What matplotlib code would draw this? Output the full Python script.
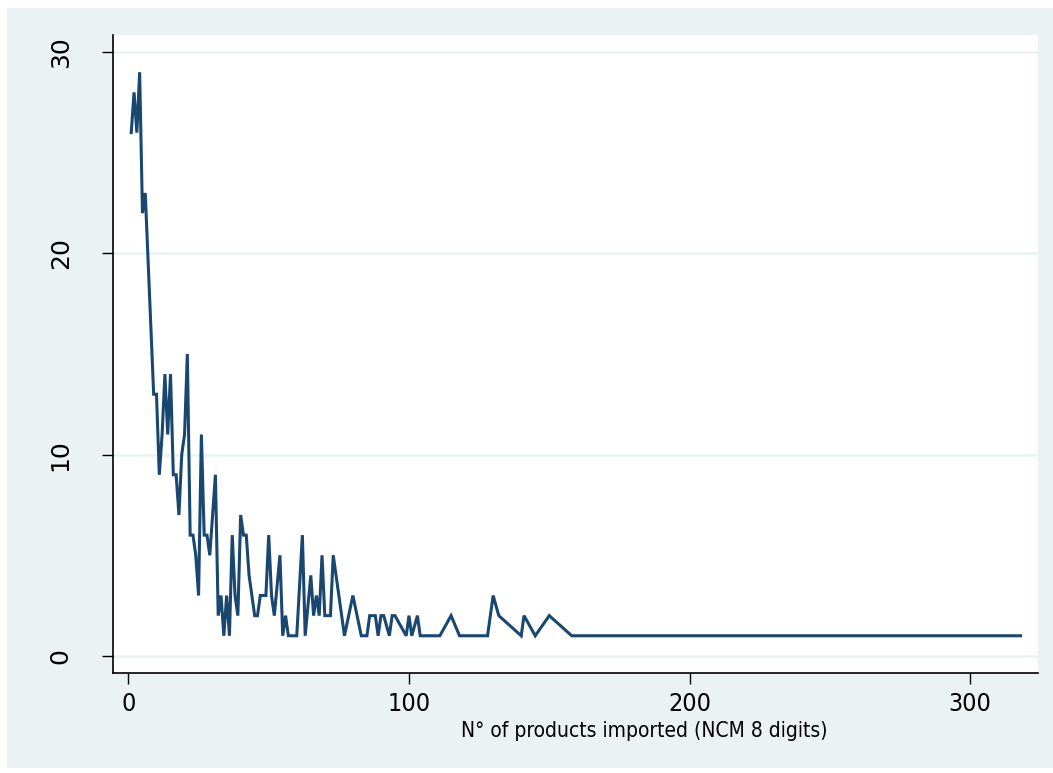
import matplotlib
matplotlib.use("Agg")
import matplotlib.pyplot as plt
from matplotlib.patches import Rectangle

# number of firms by number of distinct products imported (NCM 8 digits)
n_products = [1, 2, 3, 4, 5, 6, 9, 10, 11, 12, 13, 14, 15, 16, 17, 18, 19, 20,
              21, 22, 23, 24, 25, 26, 27, 28, 29, 30, 31, 32, 33, 34, 35, 36,
              37, 38, 39, 40, 41, 42, 43, 44, 45, 46, 47, 48, 49, 50, 51, 52,
              54, 55, 56, 57, 60, 62, 63, 65, 66, 67, 68, 69, 70, 72, 73, 77,
              80, 83, 85, 86, 88, 89, 90, 91, 93, 94, 95, 99, 100, 101, 103,
              104, 111, 115, 118, 128, 130, 132, 140, 141, 145, 150, 158, 318]
n_firms = [26, 28, 26, 29, 22, 23, 13, 13, 9, 11, 14, 11, 14, 9, 9, 7, 10, 11,
           15, 6, 6, 5, 3, 11, 6, 6, 5, 7, 9, 2, 3, 1, 3, 1,
           6, 3, 2, 7, 6, 6, 4, 3, 2, 2, 3, 3, 3, 6, 3, 2,
           5, 1, 2, 1, 1, 6, 1, 4, 2, 3, 2, 5, 2, 2, 5, 1,
           3, 1, 1, 2, 2, 1, 2, 2, 1, 2, 2, 1, 2, 1, 2,
           1, 1, 2, 1, 1, 3, 2, 1, 2, 1, 2, 1, 1]

x_ticks = [0, 100, 200, 300]
y_ticks = [0, 10, 20, 30]
x_title = "N° of products imported (NCM 8 digits)"

line_color = "#1A476F"
region_color = "#EAF2F3"
narrow = dict(family="DejaVu Sans", fontstretch="condensed")

W, H = 1053, 773
fig = plt.figure(figsize=(W / 100, H / 100), dpi=100)
fig.patch.set_facecolor("white")

# graph region (light bluish gray) with a thin white border
fig.patches.append(Rectangle((7 / W, 1 - 768 / H), 1 - 7 / W, (768 - 8) / H,
                             transform=fig.transFigure, facecolor=region_color,
                             edgecolor="none", zorder=-5))

ax = fig.add_axes([113 / W, 1 - 673 / H, (1038 - 113) / W, (673 - 35) / H])
ax.set_zorder(2)
ax.set_facecolor("white")

for y in y_ticks:
    ax.axhline(y, color=region_color, lw=1.8, zorder=1)

ax.plot(n_products, n_firms, color=line_color, lw=2.2, zorder=3,
        solid_joinstyle="miter")

ax.set_xlim(-5.5, 324.2)
ax.set_ylim(-0.85, 30.85)
ax.set_xticks(x_ticks)
ax.set_yticks(y_ticks)
ax.set_xticklabels([str(v) for v in x_ticks], fontsize=18, **narrow)
ax.set_yticklabels([str(v) for v in y_ticks], rotation=90, va="center",
                   family="DejaVu Sans", fontsize=18)
ax.tick_params(axis="both", length=8, width=1.0, color="black")
ax.tick_params(axis="x", pad=6)
ax.tick_params(axis="y", pad=21)

for side in ["top", "right"]:
    ax.spines[side].set_visible(False)
for side in ["left", "bottom"]:
    ax.spines[side].set_color("black")
    ax.spines[side].set_linewidth(1.2)

fig.text(644 / W, 1 - 731 / H, x_title, ha="center", va="center",
         fontsize=15, **narrow)

fig.savefig("out.png", dpi=100)
